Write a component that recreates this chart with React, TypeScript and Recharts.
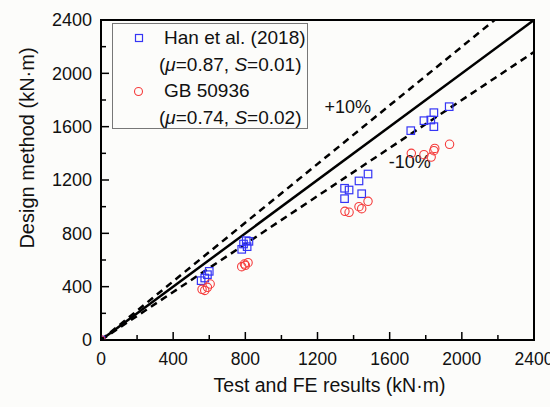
import React from 'react';
import {
  ScatterChart,
  Scatter,
  XAxis,
  YAxis,
  ReferenceLine,
  ReferenceArea,
  ReferenceDot,
  Legend,
  Label,
} from 'recharts';

// Han et al. (2018) — test/FE value vs design value (kN·m)
const hanTest = [0, 555, 575, 590, 600, 780, 790, 805, 820, 810, 1350, 1375, 1350, 1430, 1480, 1445, 1717, 1790, 1828, 1845, 1845, 1930];
const hanDesign = [0, 445, 465, 490, 515, 680, 720, 745, 740, 700, 1138, 1125, 1060, 1193, 1245, 1097, 1570, 1645, 1650, 1705, 1600, 1750];

// GB 50936
const gbTest = [0, 560, 575, 590, 605, 780, 795, 815, 800, 1352, 1375, 1430, 1445, 1480, 1720, 1790, 1830, 1845, 1850, 1932];
const gbDesign = [0, 380, 372, 395, 420, 550, 570, 580, 560, 965, 958, 1000, 985, 1040, 1400, 1390, 1372, 1420, 1437, 1468];

const axisTicks = [0, 200, 400, 600, 800, 1000, 1200, 1400, 1600, 1800, 2000, 2200, 2400];
const axisMax = 2400;
const majorStep = 400;

const solidRatio = 1;
const boundRatios = [1.1, 0.9];
const boundLabels = ['+10%', '-10%'];
const boundLabelX = [1368, 1712];
const boundLabelY = [1748, 1335];

const hanData = hanTest.map((x, i) => ({ x, y: hanDesign[i] }));
const gbData = gbTest.map((x, i) => ({ x, y: gbDesign[i] }));

const FONT = '"Liberation Sans", Arial, sans-serif';
const BLUE = '#3535f5';
const RED = '#f53c3c';
const TICK_GAP = 8;

const segmentFor = (r: number) => [
  { x: 0, y: 0 },
  { x: Math.min(axisMax, axisMax / r), y: Math.min(axisMax, axisMax * r) },
];

const Square = (p: any) => (
  <rect x={p.cx - 3.75} y={p.cy - 3.75} width={7.5} height={7.5} fill="none" stroke={BLUE} strokeWidth={1.2} />
);
const Ring = (p: any) => (
  <circle cx={p.cx} cy={p.cy} r={4.2} fill="none" stroke={RED} strokeWidth={1.1} />
);

function XTick({ x, y, payload }: any) {
  const v = payload.value;
  const major = v % majorStep === 0;
  const axisY = y - TICK_GAP;
  return (
    <g>
      <line x1={x} x2={x} y1={axisY} y2={axisY - (major ? 8 : 5)} stroke="#000" strokeWidth={1.5} />
      {major && (
        <text x={x} y={y + 17} textAnchor="middle" fontSize={17.5} fontFamily={FONT} fill="#111">
          {v}
        </text>
      )}
    </g>
  );
}

function YTick({ x, y, payload }: any) {
  const v = payload.value;
  const major = v % majorStep === 0;
  const axisX = x + TICK_GAP;
  return (
    <g>
      <line x1={axisX} x2={axisX + (major ? 8 : 5)} y1={y} y2={y} stroke="#000" strokeWidth={1.5} />
      {major && (
        <text x={x - 1} y={y} dy="0.36em" textAnchor="end" fontSize={18} fontFamily={FONT} fill="#111">
          {v}
        </text>
      )}
    </g>
  );
}

function LegendBox() {
  const row: React.CSSProperties = { height: 26.5, display: 'flex', alignItems: 'center', whiteSpace: 'nowrap' };
  const mark: React.CSSProperties = { width: 51, display: 'flex', justifyContent: 'center' };
  return (
    <div
      style={{
        width: 196,
        height: 106,
        border: '1px solid #777',
        boxSizing: 'border-box',
        fontFamily: FONT,
        fontSize: 19,
        color: '#111',
        paddingTop: 1,
        background: 'transparent',
      }}
    >
      <div style={row}>
        <div style={mark}>
          <svg width={10} height={10}>
            <rect x={1.5} y={1.5} width={7} height={7} fill="none" stroke={BLUE} strokeWidth={1.2} />
          </svg>
        </div>
        <span>Han et al. (2018)</span>
      </div>
      <div style={{ ...row, paddingLeft: 46 }}>
        <span>
          (<i>μ</i>=0.87, <i>S</i>=0.01)
        </span>
      </div>
      <div style={row}>
        <div style={mark}>
          <svg width={11} height={11}>
            <circle cx={5.5} cy={5.5} r={4} fill="none" stroke={RED} strokeWidth={1.1} />
          </svg>
        </div>
        <span>GB 50936</span>
      </div>
      <div style={{ ...row, paddingLeft: 46 }}>
        <span>
          (<i>μ</i>=0.74, <i>S</i>=0.02)
        </span>
      </div>
    </div>
  );
}

export default function App() {
  return (
    <div style={{ position: 'fixed', left: 0, top: 0, width: 550, height: 407, background: '#fcfcfa' }}>
      <ScatterChart width={550} height={407} margin={{ top: 20, right: 16, bottom: 0, left: 0 }}>
        <XAxis
          type="number"
          dataKey="x"
          domain={[0, axisMax]}
          ticks={axisTicks}
          interval={0}
          height={67}
          tickSize={0}
          tickMargin={TICK_GAP}
          tick={<XTick />}
          axisLine={{ stroke: '#000', strokeWidth: 2 }}
          allowDataOverflow
        >
          <Label
            content={({ viewBox }: any) => (
              <text
                x={viewBox.x + viewBox.width / 2 + 12}
                y={viewBox.y + 52}
                textAnchor="middle"
                fontSize={19.5}
                fontFamily={FONT}
                fill="#111"
              >
                Test and FE results (kN·m)
              </text>
            )}
          />
        </XAxis>
        <YAxis
          type="number"
          dataKey="y"
          domain={[0, axisMax]}
          ticks={axisTicks}
          interval={0}
          width={101}
          tickSize={0}
          tickMargin={TICK_GAP}
          tick={<YTick />}
          axisLine={{ stroke: '#000', strokeWidth: 2 }}
          allowDataOverflow
        >
          <Label
            content={({ viewBox }: any) => {
              const cx = viewBox.x + 27;
              const cy = viewBox.y + viewBox.height / 2 - 32;
              return (
                <text
                  x={cx}
                  y={cy}
                  transform={`rotate(-90 ${cx} ${cy})`}
                  textAnchor="middle"
                  dominantBaseline="central"
                  fontSize={20}
                  fontFamily={FONT}
                  fill="#111"
                >
                  Design method (kN·m)
                </text>
              );
            }}
          />
        </YAxis>
        <ReferenceArea x1={0} x2={axisMax} y1={0} y2={axisMax} fill="none" stroke="#000" strokeWidth={2} ifOverflow="visible" />
        <ReferenceLine segment={segmentFor(solidRatio)} stroke="#000" strokeWidth={2.5} ifOverflow="visible" />
        {boundRatios.map((r) => (
          <ReferenceLine key={r} segment={segmentFor(r)} stroke="#000" strokeWidth={2.5} strokeDasharray="7 5" ifOverflow="visible" />
        ))}
        {boundLabels.map((t, i) => (
          <ReferenceDot
            key={t}
            x={boundLabelX[i]}
            y={boundLabelY[i]}
            r={0}
            ifOverflow="visible"
            shape={(p: any) => (
              <text x={p.cx} y={p.cy} dy="0.36em" textAnchor="middle" fontSize={18} fontFamily={FONT} fill="#111">
                {t}
              </text>
            )}
          />
        ))}
        <Scatter name="Han et al. (2018)" data={hanData} shape={Square} isAnimationActive={false} />
        <Scatter name="GB 50936" data={gbData} shape={Ring} isAnimationActive={false} />
        <Legend
          layout="vertical"
          align="center"
          verticalAlign="middle"
          content={() => <LegendBox />}
          wrapperStyle={{ position: 'absolute', left: 112, top: 23, width: 196, height: 106 }}
        />
      </ScatterChart>
    </div>
  );
}
